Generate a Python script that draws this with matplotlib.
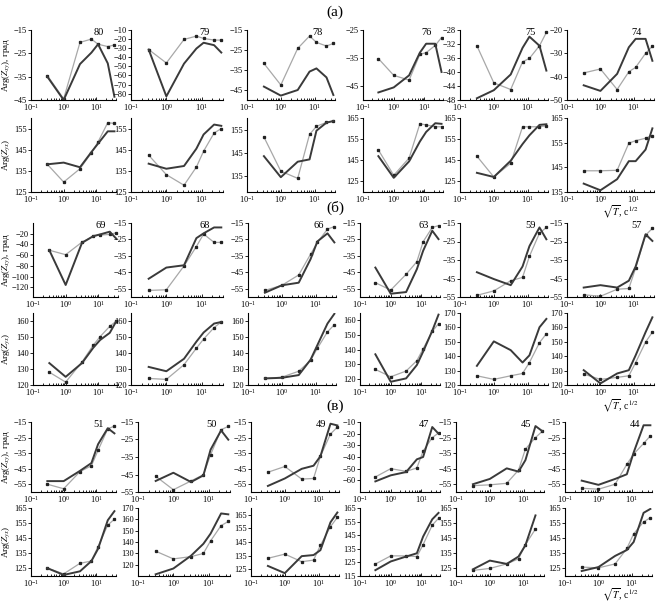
import numpy as np
import matplotlib
matplotlib.use('Agg')
import matplotlib.pyplot as plt
from matplotlib.ticker import LogLocator, NullFormatter

plt.rcParams['font.family'] = ['Liberation Serif', 'DejaVu Serif']
plt.rcParams['mathtext.fontset'] = 'stix'

###############################################################################
# Data: sqrt(T) periods and phases (degrees)
###############################################################################
sqrt_t = [0.316, 1.0, 3.16, 7.07, 11.3, 22.4, 35.8]

# group (а)
stations_a = [80, 79, 78, 76, 75, 74]
xy_calc_a = [[-35, -45, -29.6, -24.7, -21.1, -29.3, -43.6],
             [-31.5, -83, -47, -30.4, -24, -26.7, -34.8],
             [-43.3, -47.8, -45, -35.8, -34.2, -38.7, -47.5],
             [-47.3, -45.5, -41.2, -33.1, -29.9, -29.9, -40],
             [-47.5, -45.2, -40.7, -33.1, -29.9, -32.5, -39.6],
             [-43.7, -46.1, -38.8, -27.4, -23.8, -23.8, -33.2]]
xy_obs_a = [[-34.5, -44.5, -20.3, -18.9, -21.1, -22.1, -21.4],
            [-31.5, -46.3, -20.4, -16.7, -19.3, -21.1, -21.1],
            [-31.7, -42.5, -24.2, -18, -21.2, -23, -21.7],
            [-35.2, -41.2, -42.9, -33.7, -33.1, -30.5, -27.7],
            [-32.5, -43.1, -45, -37.1, -36.1, -32.5, -28.7],
            [-38.4, -36.7, -45.5, -37.9, -36, -30, -27]]
yx_calc_a = [[138.1, 138.9, 136.7, 143.9, 147.9, 153.7, 153.7],
             [138.4, 136, 137.3, 145.5, 152.2, 156.9, 156.3],
             [143.5, 134.4, 141.1, 142.1, 154.5, 158, 158.7],
             [146.7, 136.3, 144.2, 153.7, 158.3, 162.5, 162.2],
             [138.7, 136.7, 144.5, 152.5, 156.7, 161.7, 162],
             [138.4, 135.7, 140.2, 147.5, 147.5, 152.2, 160.8]]
yx_obs_a = [[138.1, 129.7, 136, 143.5, 148.7, 157.8, 157.4],
            [142.4, 133.2, 128.2, 136.8, 144.3, 152.9, 155],
            [151.8, 137, 133.9, 152.9, 156.4, 158.1, 158.6],
            [149.7, 137.5, 145.8, 162.2, 161.7, 160.8, 160.8],
            [146.7, 136.7, 143.3, 160.8, 160.8, 160.8, 161.3],
            [143.6, 143.6, 143.8, 154.8, 155.8, 156.8, 157.9]]

# group (б)
stations_b = [69, 68, 66, 63, 59, 57]
xy_calc_b = [[-50.8, -115.6, -37, -24.4, -21.3, -16.2, -29.5],
             [-48.9, -42.1, -40.7, -24.2, -21.3, -17.7, -17.7],
             [-57.4, -52.9, -51.3, -37, -26.2, -21.3, -26.8],
             [-42.1, -58, -57, -43.1, -31.9, -19.7, -24.8],
             [-41.6, -45.3, -48.6, -38.5, -27.5, -17.4, -23.8],
             [-49.9, -48.6, -49.9, -46.2, -38.5, -21.1, -24.7]]
xy_obs_b = [[-50.8, -59.1, -35.7, -24.4, -22.5, -21.3, -18.1],
            [-56, -55.6, -41.1, -29.3, -21.7, -26.8, -26.8],
            [-56, -52.9, -46.6, -34, -26.8, -18.7, -17.2],
            [-51.3, -55.8, -46.2, -38.5, -26.4, -17.7, -16.6],
            [-54.1, -51.7, -46.2, -44.4, -33, -20.5, -17.4],
            [-53.8, -54.6, -50.8, -50.4, -39.4, -21.6, -17.9]]
yx_calc_b = [[133.7, 125.1, 133.7, 143.4, 148.1, 152.6, 160],
             [131.3, 128.6, 136.4, 147.1, 152.8, 158.4, 159.4],
             [124.1, 124.5, 126.2, 135.8, 145, 158.4, 164.5],
             [136.9, 118.2, 120.5, 129.6, 138.7, 152.9, 163.9],
             [133.3, 150.3, 144.2, 135.6, 140.6, 160.1, 165.9],
             [130.3, 121.1, 128, 130.3, 140.6, 156.7, 167]]
yx_obs_b = [[128, 121.8, 134.4, 145, 150.2, 156.7, 160],
            [124.1, 123.5, 132.7, 143, 148.7, 155.9, 159.4],
            [124.1, 124.9, 128.6, 135.4, 143, 153.2, 157.7],
            [126.6, 121.6, 125.5, 132.6, 140.6, 152.5, 157.7],
            [126.4, 123.9, 126.4, 128, 135.6, 149.4, 155.6],
            [127.6, 123.9, 125.3, 126.4, 135.6, 149.8, 156.7]]

# group (в)
stations_c = [51, 50, 49, 47, 45, 44]
xy_calc_c = [[-53, -53, -46.4, -41.4, -29.3, -19, -22.3],
             [-48.7, -44, -49.3, -45.5, -30.8, -19.8, -25.1],
             [-56.1, -51.3, -45.1, -43.1, -37, -16.1, -17.2],
             [-60.9, -55.7, -52.9, -42, -40, -14.3, -20],
             [-55, -51.6, -44.8, -46.9, -39.5, -17.6, -20.9],
             [-52.7, -55.4, -51.6, -48.6, -34.6, -17.1, -17.1]]
xy_obs_c = [[-55, -57.9, -46.9, -43.1, -33.2, -19.4, -17.6],
            [-46, -53.7, -48.7, -45.1, -33.7, -19.4, -17.5],
            [-47.3, -43.6, -51.7, -51.3, -37, -22.7, -18.3],
            [-57.1, -50, -52.3, -49.4, -34.9, -23.4, -19.4],
            [-55.9, -55.4, -54.4, -45.9, -32.4, -25, -20.9],
            [-57.6, -58.2, -55, -42.2, -35.6, -28.8, -23.9]]
yx_calc_c = [[125.2, 120.7, 123.1, 129.9, 138, 156.9, 162.9],
             [111.5, 116.6, 127.9, 138.4, 147.4, 165.2, 164.4],
             [127.4, 122.1, 134.6, 135.4, 139, 159.5, 166.7],
             [119.3, 125.7, 129.3, 131.7, 144, 156.7, 161.4],
             [124.4, 130.2, 128, 132.9, 140.4, 160.1],
             [123.3, 125.9, 133.3, 137.2, 142.5, 161.8, 164.4]]
yx_obs_c = [[125.2, 121.4, 128.4, 129.9, 139.5, 153.7, 157.6],
            [131.9, 125.1, 127.1, 129.9, 141, 154.5, 158.1],
            [133, 136.1, 130.5, 131.7, 142.6, 156.3, 163.1],
            [123.8, 129.8, 129.8, 129.3, 138.1, 152.4, 157.4],
            [123.7, 125, 128, 131.4, 140.8, 151.1],
            [125.9, 125.4, 128, 138.2, 147.9, 155.8, 158.6]]

# axis limits and ticks
xy_lim_a = [(-45, -15), (-87, -10), (-50, -15), (-50, -25), (-48, -28), (-50, -20)]
xy_ticks_a = [[-15, -25, -35, -45], list(range(-10, -81, -10)), [-15, -25, -35, -45],
              [-25, -35, -45], list(range(-28, -49, -4)), [-20, -30, -40, -50]]
yx_lim_a = [(125, 160), (125, 160), (128, 160), (129.5, 165), (129.5, 165), (135, 165)]
yx_ticks_a = [[125, 135, 145, 155], [125, 135, 145, 155], [135, 145, 155],
              [135, 145, 155, 165], [135, 145, 155, 165], [135, 145, 155, 165]]
yx_ticklabels_a = [None, None, None, ['125', '145', '155', '165'],
                   ['125', '145', '155', '165'], None]

xy_lim_b = [(-138, 0), (-60, -15), (-60, -15), (-60, -15), (-55, -15), (-55, -15)]
xy_ticks_b = [list(range(-20, -121, -20))] + [[-15, -25, -35, -45, -55]] * 5
yx_lim_b = [(120, 165), (120, 165), (120, 165), (116, 165), (120, 170), (120, 170)]
yx_ticks_b = [list(range(120, 161, 10))] * 4 + [list(range(120, 171, 10))] * 2
yx_ticklabels_b = [None] * 6

xy_lim_c = [(-60, -15), (-55, -15), (-60, -15), (-70, -10), (-60, -15), (-60, -15)]
xy_ticks_c = [[-15, -25, -35, -45, -55]] * 3 + [list(range(-10, -61, -10))] + \
             [[-15, -25, -35, -45, -55]] * 2
yx_lim_c = [(120, 165), (110, 170), (120, 170), (115, 165), (120, 165), (120, 165)]
yx_ticks_c = [list(range(125, 166, 10)), list(range(120, 171, 10)), list(range(125, 166, 10)),
              list(range(115, 166, 10)), list(range(125, 166, 10)), list(range(125, 166, 10))]
yx_ticklabels_c = [None] * 6

###############################################################################
# Layout (pixels)
###############################################################################
W, H = 656, 603
col_left = {'a': [31, 131, 247, 363, 460, 567],
            'b': [33, 131, 248, 360, 460, 567],
            'c': [31, 138, 251, 360, 456, 565]}
col_width = [85, 92, 88, 80, 88, 87]
rows = {'a': [(30, 100), (118, 192)],
        'b': [(223, 297), (313, 385)],
        'c': [(422, 492), (508, 576)]}
YLABEL_X = 12

DARK = '#3a3a3a'
LIGHT = '#a8a8a8'


def make_axes(fig, left, top, width, bottom):
    ax = fig.add_axes([left / W, 1 - bottom / H, width / W, (bottom - top) / H])
    ax.set_xscale('log')
    ax.set_xlim(0.1, 40)
    ax.spines['top'].set_visible(False)
    ax.spines['right'].set_visible(False)
    for s in ('left', 'bottom'):
        ax.spines[s].set_linewidth(0.8)
    ax.xaxis.set_major_locator(LogLocator(base=10, numticks=5))
    ax.xaxis.set_minor_locator(LogLocator(base=10, subs=np.arange(2, 10), numticks=12))
    ax.xaxis.set_minor_formatter(NullFormatter())
    ax.tick_params(axis='x', which='both', direction='in', labelsize=6, pad=1.2)
    ax.tick_params(axis='x', which='major', length=2.5, width=0.6)
    ax.tick_params(axis='x', which='minor', length=1.8, width=0.6)
    ax.tick_params(axis='y', direction='out', length=2, width=0.6, labelsize=6, pad=1)
    return ax


def draw(ax, x, calc, obs, lim, ticks, labels):
    ax.plot(x[:len(calc)], calc, color=DARK, lw=1.4, zorder=3)
    ax.plot(x[:len(obs)], obs, color=LIGHT, lw=0.9, marker='s', ms=1.4,
            mfc='#222222', mec='#222222', zorder=2)
    ax.set_ylim(*lim)
    ax.set_yticks(ticks)
    if labels is not None:
        ax.set_yticklabels(labels)


def draw_group(fig, key, stations, xy_calc, xy_obs, yx_calc, yx_obs,
               xy_lim, xy_ticks, yx_lim, yx_ticks, yx_labels):
    (t1, b1), (t2, b2) = rows[key]
    for i in range(6):
        left = col_left[key][i]
        ax1 = make_axes(fig, left, t1, col_width[i], b1)
        draw(ax1, sqrt_t, xy_calc[i], xy_obs[i], xy_lim[i], xy_ticks[i], None)
        ax1.text(0.8, 0.97, str(stations[i]), transform=ax1.transAxes,
                 ha='center', va='center', fontsize=7.5)
        ax2 = make_axes(fig, left, t2, col_width[i], b2)
        draw(ax2, sqrt_t, yx_calc[i], yx_obs[i], yx_lim[i], yx_ticks[i], yx_labels[i])
        if i == 0:
            ax1.set_ylabel(r'Arg($Z_{xy}$), град', fontsize=6.5)
            ax2.set_ylabel(r'Arg($Z_{yx}$)', fontsize=6.5)
            lx = (YLABEL_X - left) / col_width[i]
            ax1.yaxis.set_label_coords(lx, 0.5)
            ax2.yaxis.set_label_coords(lx, 0.5)


fig = plt.figure(figsize=(W / 100, H / 100), dpi=100)

draw_group(fig, 'a', stations_a, xy_calc_a, xy_obs_a, yx_calc_a, yx_obs_a,
           xy_lim_a, xy_ticks_a, yx_lim_a, yx_ticks_a, yx_ticklabels_a)
draw_group(fig, 'b', stations_b, xy_calc_b, xy_obs_b, yx_calc_b, yx_obs_b,
           xy_lim_b, xy_ticks_b, yx_lim_b, yx_ticks_b, yx_ticklabels_b)
draw_group(fig, 'c', stations_c, xy_calc_c, xy_obs_c, yx_calc_c, yx_obs_c,
           xy_lim_c, xy_ticks_c, yx_lim_c, yx_ticks_c, yx_ticklabels_c)

# group letters and axis titles
for letter, y in [('(а)', 12), ('(б)', 208), ('(в)', 406)]:
    fig.text(335 / W, 1 - y / H, letter, ha='center', va='center', fontsize=11)
for y in [212, 406, 595]:
    fig.text(620 / W, 1 - y / H, r'$\sqrt{T}$, с$^{1/2}$', ha='center', va='center', fontsize=7)

fig.savefig('out.png', dpi=100)
